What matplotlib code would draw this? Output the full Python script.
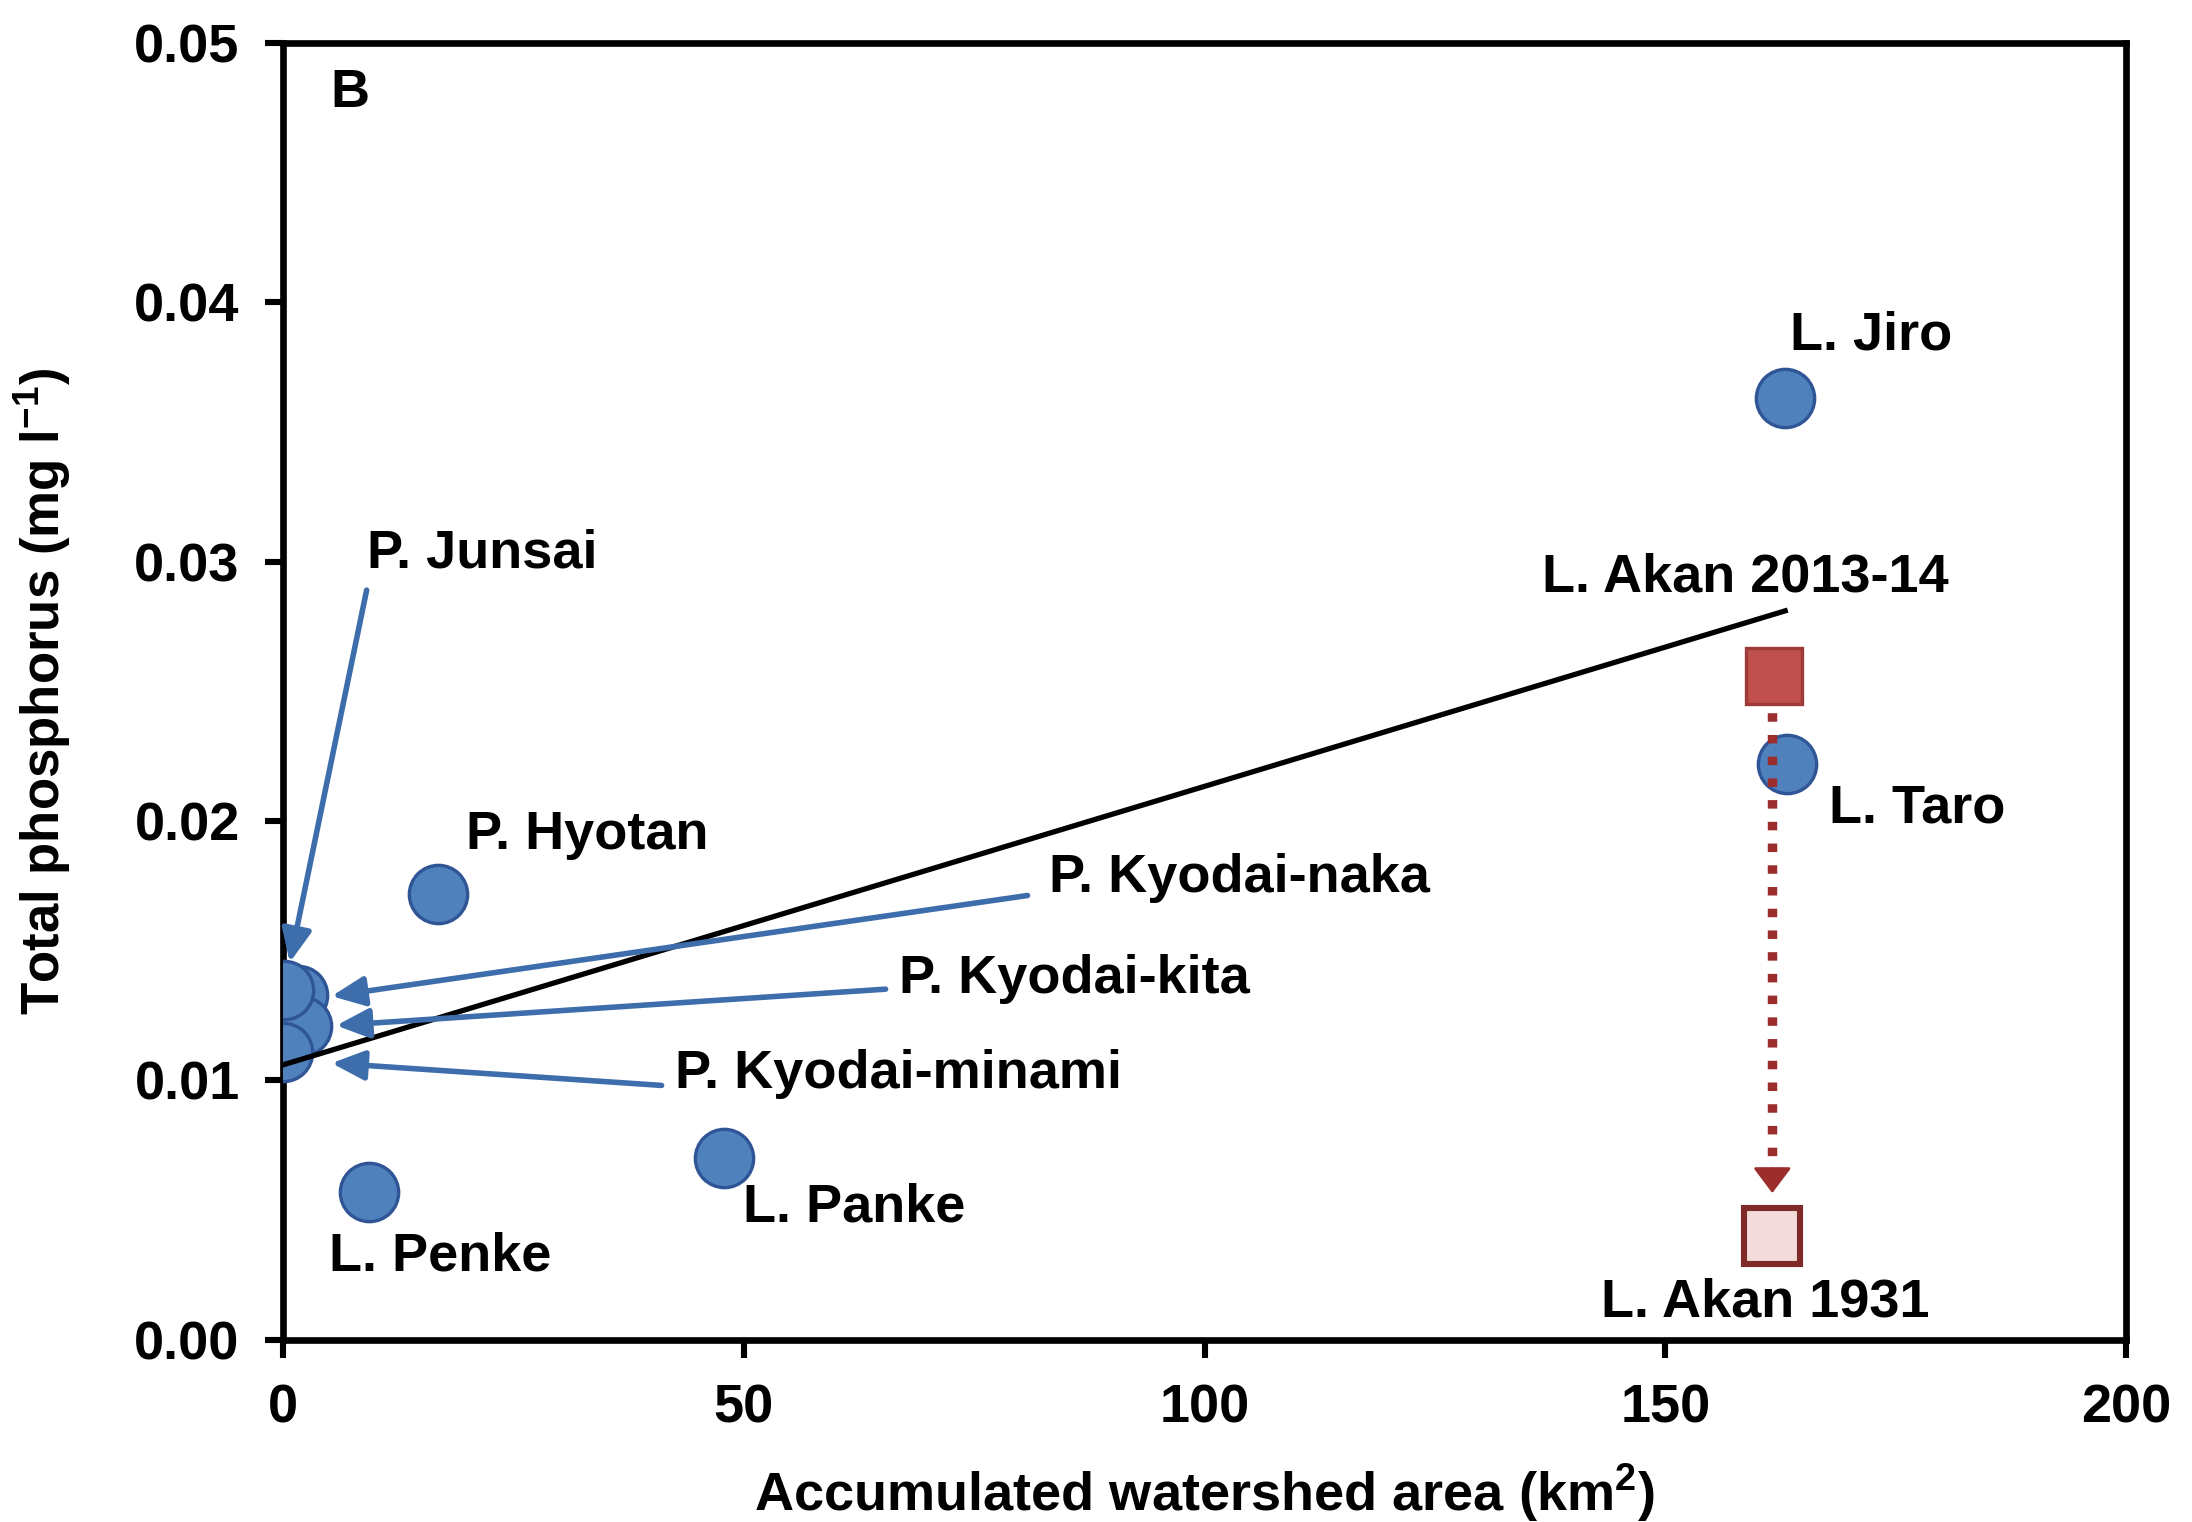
import numpy as np
import matplotlib
matplotlib.use("Agg")
from matplotlib import pyplot as plt

plt.rcParams["font.family"] = ["Liberation Sans", "DejaVu Sans"]
plt.rcParams["font.weight"] = "bold"
plt.rcParams["axes.labelweight"] = "bold"
plt.rcParams["mathtext.default"] = "regular"

# Lakes and ponds (blue circles)
lakeNames = ["L. Jiro", "L. Taro", "P. Hyotan", "L. Penke", "L. Panke",
             "P. Junsai", "P. Kyodai-naka", "P. Kyodai-kita", "P. Kyodai-minami"]
lakeArea = np.array([163.0, 163.2, 16.8, 9.4, 47.9, 0.1, 1.6, 2.1, 0.0])
lakeTP = np.array([0.0363, 0.0222, 0.0172, 0.0057, 0.0070,
                   0.0135, 0.0133, 0.0121, 0.0111])

# Lake Akan, then and now
akanArea = [161.8, 161.6]
akanTP = [0.0256, 0.0040]

# Trend line end points
trendX = [0.0, 163.0]
trendY = [0.0106, 0.0281]

fig = plt.figure(figsize=(10.96, 7.61), dpi=200)
ax = fig.add_axes([0.129, 0.1196, 0.841, 0.8524])

blueFace = "#4F81BD"
blueEdge = "#2F5597"
blueArrow = "#3D6DAA"
redLine = "#9B2D2D"

# trend line
ax.plot(trendX, trendY, color="black", lw=1.9, zorder=4)

# circles: bottom ones drawn last, as in the original
order = [0, 1, 2, 3, 4, 6, 7, 5, 8]
for i in order:
    ax.plot(lakeArea[i], lakeTP[i], "o", ms=21, mfc=blueFace, mec=blueEdge,
            mew=1.2, zorder=3)

# dotted arrow Akan 2013-14 -> 1931 (drawn over L. Taro)
xArrow = 161.6
ax.plot([xArrow, xArrow], [0.0250, 0.0064], color=redLine, lw=3.4,
        linestyle=(0, (0.9, 1.4)), solid_capstyle="butt",
        dash_capstyle="butt", zorder=3.5)
ax.annotate("", xy=(xArrow, 0.00566), xytext=(xArrow, 0.0066),
            arrowprops=dict(arrowstyle="-|>,head_length=0.8,head_width=0.6",
                            color=redLine, lw=1.0, shrinkA=0, shrinkB=0),
            zorder=3.5)

ax.plot(akanArea[0], akanTP[0], "s", ms=20, mfc="#C0504D", mec="#9E3B38",
        mew=1.2, zorder=3.6)
ax.plot(akanArea[1], akanTP[1], "s", ms=20, mfc="#F2DCDB", mec="#7F2A27",
        mew=2.2, zorder=3.6)

fs = 19.5
# plain labels
ax.text(163.5, 0.0387, "L. Jiro", fontsize=fs, va="center", ha="left")
ax.text(136.6, 0.0294, "L. Akan 2013-14", fontsize=fs, va="center", ha="left")
ax.text(167.7, 0.0205, "L. Taro", fontsize=fs, va="center", ha="left")
ax.text(19.9, 0.01945, "P. Hyotan", fontsize=fs, va="center", ha="left")
ax.text(49.9, 0.0051, "L. Panke", fontsize=fs, va="center", ha="left")
ax.text(5.0, 0.0032, "L. Penke", fontsize=fs, va="center", ha="left")
ax.text(143.0, 0.00145, "L. Akan 1931", fontsize=fs, va="center", ha="left")

# labels with arrows
arrowLabels = [("P. Junsai", (9.1, 0.0303), (9.1, 0.0289), (0.76, 0.01455)),
               ("P. Kyodai-naka", (83.1, 0.0178), (80.8, 0.01713), (5.3, 0.01325)),
               ("P. Kyodai-kita", (66.9, 0.0139), (65.4, 0.01352), (5.8, 0.01212)),
               ("P. Kyodai-minami", (42.6, 0.01024), (41.1, 0.00981), (5.3, 0.01067))]
for name, txtPos, start, end in arrowLabels:
    ax.text(txtPos[0], txtPos[1], name, fontsize=fs, va="center", ha="left")
    ax.annotate("", xy=end, xytext=start,
                arrowprops=dict(arrowstyle="-|>,head_length=1.0,head_width=0.45",
                                color=blueArrow, lw=2.0, shrinkA=0, shrinkB=0),
                zorder=5)

ax.text(0.026, 0.961, "B", transform=ax.transAxes, fontsize=fs,
        va="center", ha="left")

ax.set_xlim(0, 200)
ax.set_ylim(0, 0.05)
ax.set_xticks([0, 50, 100, 150, 200])
ax.set_yticks([0.00, 0.01, 0.02, 0.03, 0.04, 0.05])
ax.set_yticklabels(["%.2f" % v for v in ax.get_yticks()])
ax.tick_params(direction="out", length=6.5, width=2.2, labelsize=fs, pad=9,
               top=False, right=False)
for sp in ax.spines.values():
    sp.set_linewidth(2.4)

ax.set_xlabel("Accumulated watershed area (km$^{2}$)", fontsize=fs,
              va="center", ha="center")
ax.set_ylabel("Total phosphorus (mg l$^{-1}$)", fontsize=19,
              va="center", ha="center")
ax.xaxis.set_label_coords(0.5, -0.118)
ax.yaxis.set_label_coords(-0.130, 0.5)

plt.savefig("out.png", dpi=200)
